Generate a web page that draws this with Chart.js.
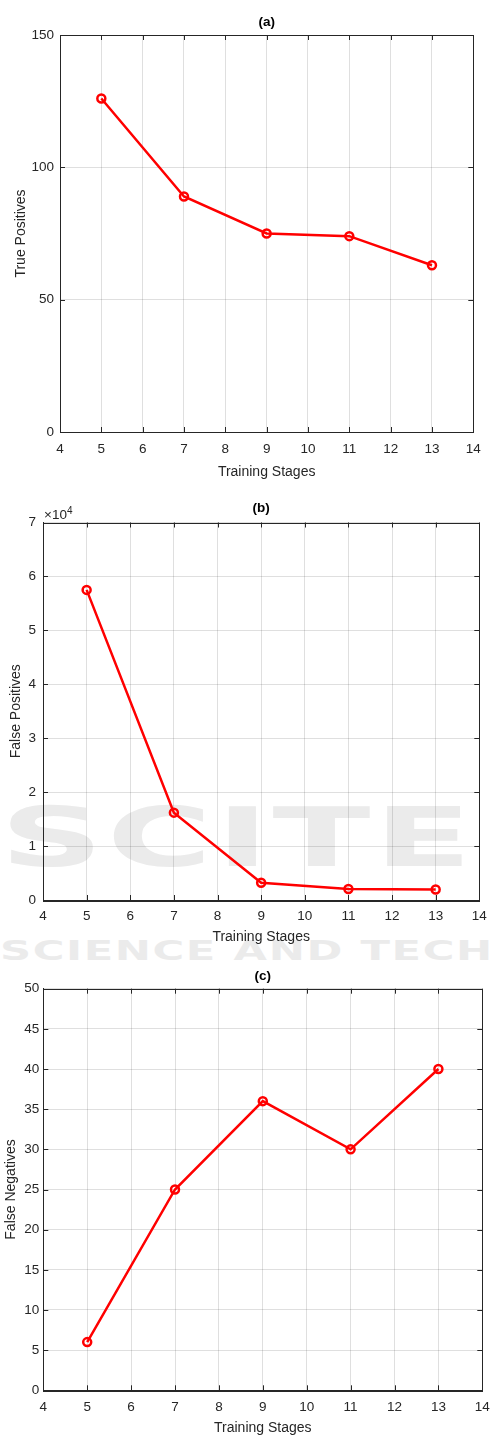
<!DOCTYPE html>
<html>
<head>
<meta charset="utf-8">
<script src="https://cdn.jsdelivr.net/npm/chart.js@4.4.1/dist/chart.umd.min.js"></script>
<style>
    html, body { margin: 0; padding: 0; background: #fff; overflow: hidden; }
    #page { position: relative; width: 492px; height: 1436px; }
    .wm { position: absolute; left: 0; color: #ebebeb; font-family: "DejaVu Sans"; font-weight: bold;
          white-space: nowrap; transform-origin: left top; z-index: 0; }
    canvas { position: absolute; left: 0; z-index: 1; }
</style>
</head>
<body>
<div id="page">
    <div class="wm" style="top:797px;font-size:82px;line-height:82px;letter-spacing:2px;transform:scaleX(1.75);">SCITE</div>
    <div class="wm" style="top:937px;font-size:27px;line-height:27px;letter-spacing:1px;transform:scaleX(1.6);">SCIENCE AND TECHNOLOGY</div>
    <canvas id="chart-a" width="492" height="490" style="top:0px"></canvas>
    <canvas id="chart-b" width="492" height="468" style="top:490px"></canvas>
    <canvas id="chart-c" width="492" height="480" style="top:958px"></canvas>
</div>
<script>
(function() {
    'use strict';

    // values
    var stages = [5, 7, 9, 11, 13];
    var truePositives = [126, 89, 75, 74, 63];
    var falsePositives = [57500, 16200, 3200, 2050, 1950];
    var falseNegatives = [6, 25, 36, 30, 40];
    var xTickMin = 4, xTickMax = 14;

    var axisColor = '#262626';
    var gridColor = 'rgba(38,38,38,0.15)';
    var fontFamily = '"Liberation Sans", Arial, Helvetica, sans-serif';

    function toPoints(xs, ys) {
        return xs.map(function(x, i) { return {x: x, y: ys[i]}; });
    }

    // matlab-style box with inward ticks on all four sides
    var boxPlugin = {
        id: 'matlabBox',
        afterDraw: function(chart) {
            var ctx = chart.ctx, a = chart.chartArea;
            var xs = chart.scales.x, ys = chart.scales.y;
            var len = 5;
            ctx.save();
            ctx.strokeStyle = axisColor;
            ctx.lineWidth = 1;
            ctx.beginPath();
            xs.ticks.forEach(function(t) {
                var px = Math.round(xs.getPixelForValue(t.value)) + 0.5;
                ctx.moveTo(px, a.bottom); ctx.lineTo(px, a.bottom - len);
                ctx.moveTo(px, a.top); ctx.lineTo(px, a.top + len);
            });
            ys.ticks.forEach(function(t) {
                var py = Math.round(ys.getPixelForValue(t.value)) + 0.5;
                ctx.moveTo(a.left, py); ctx.lineTo(a.left + len, py);
                ctx.moveTo(a.right, py); ctx.lineTo(a.right - len, py);
            });
            ctx.stroke();
            ctx.strokeRect(Math.round(a.left) + 0.5, Math.round(a.top) + 0.5,
                           Math.round(a.right - a.left), Math.round(a.bottom - a.top));

            var exp = chart.options.plugins.matlabBox && chart.options.plugins.matlabBox.exponent;
            if (exp) {
                ctx.fillStyle = axisColor;
                ctx.textBaseline = 'alphabetic';
                ctx.textAlign = 'left';
                ctx.font = '13.5px ' + fontFamily;
                var bx = a.left + 1, by = a.top - 4;
                ctx.fillText('\u00d710', bx, by);
                var w = ctx.measureText('\u00d710').width;
                ctx.font = '10px ' + fontFamily;
                ctx.fillText(exp, bx + w, by - 5);
            }
            ctx.restore();
        }
    };

    function buildChart(el, cfg) {
        var H = el.height;
        return new Chart(el, {
            type: 'line',
            data: {
                datasets: [{
                    data: toPoints(stages, cfg.values),
                    borderColor: '#ff0000',
                    borderWidth: 2.5,
                    tension: 0,
                    fill: false,
                    pointStyle: 'circle',
                    pointRadius: 4,
                    pointBorderWidth: 2.5,
                    pointBorderColor: '#ff0000',
                    pointBackgroundColor: 'rgba(0,0,0,0)'
                }]
            },
            options: {
                responsive: false,
                animation: false,
                layout: {padding: {left: 0, right: 492 - cfg.right, top: 0, bottom: 0}},
                plugins: {
                    legend: {display: false},
                    tooltip: {enabled: false},
                    title: {
                        display: true,
                        text: cfg.title,
                        fullSize: false,
                        color: '#000',
                        font: {family: fontFamily, size: 13.5, weight: 'bold', lineHeight: 1.2},
                        padding: {top: cfg.titleTop, bottom: cfg.top - cfg.titleTop - 16.2}
                    },
                    matlabBox: {exponent: cfg.exponent}
                },
                scales: {
                    x: {
                        type: 'linear',
                        min: xTickMin,
                        max: xTickMax,
                        afterFit: function(s) { s.height = H - cfg.bottom; },
                        ticks: {stepSize: 1, color: axisColor, padding: 0,
                                font: {family: fontFamily, size: 13.5, lineHeight: 1.2}},
                        grid: {color: gridColor, drawTicks: true, tickLength: cfg.xTickPad,
                               tickColor: 'rgba(0,0,0,0)'},
                        border: {color: axisColor},
                        title: {display: true, text: 'Training Stages', color: axisColor,
                                font: {family: fontFamily, size: 14, lineHeight: 1.2},
                                padding: {top: 0, bottom: cfg.xTitleBottom}}
                    },
                    y: {
                        min: 0,
                        max: cfg.yMax,
                        afterFit: function(s) { s.width = cfg.left; },
                        ticks: {stepSize: cfg.yStep, color: axisColor, padding: 0,
                                font: {family: fontFamily, size: 13.5, lineHeight: 1.2},
                                callback: cfg.yLabel || function(v) { return v; }},
                        grid: {color: gridColor, drawTicks: true, tickLength: cfg.yTickPad,
                               tickColor: 'rgba(0,0,0,0)'},
                        border: {color: axisColor},
                        title: {display: true, text: cfg.yTitle, color: axisColor,
                                font: {family: fontFamily, size: 14, lineHeight: 1.2},
                                padding: {top: cfg.yTitlePad, bottom: 0}}
                    }
                }
            },
            plugins: [boxPlugin]
        });
    }

    buildChart(document.getElementById('chart-a'), {
        title: '(a)', values: truePositives, yTitle: 'True Positives',
        yMax: 150, yStep: 50,
        left: 60, right: 473.3, top: 35, bottom: 432, titleTop: 13.9,
        xTickPad: 9, xTitleBottom: 9.9, yTickPad: 6, yTitlePad: 12.6
    });

    buildChart(document.getElementById('chart-b'), {
        title: '(b)', values: falsePositives, yTitle: 'False Positives',
        yMax: 70000, yStep: 10000, exponent: '4',
        yLabel: function(v) { return v / 10000; },
        left: 43, right: 479.3, top: 32.5, bottom: 410, titleTop: 9.9,
        xTickPad: 8.2, xTitleBottom: 12.6, yTickPad: 7, yTitlePad: 7.9
    });

    buildChart(document.getElementById('chart-c'), {
        title: '(c)', values: falseNegatives, yTitle: 'False Negatives',
        yMax: 50, yStep: 5,
        left: 43.3, right: 482.3, top: 30.7, bottom: 432.3, titleTop: 9.9,
        xTickPad: 8.6, xTitleBottom: 1, yTickPad: 4, yTitlePad: 2.9
    });
})();
</script>
</body>
</html>
